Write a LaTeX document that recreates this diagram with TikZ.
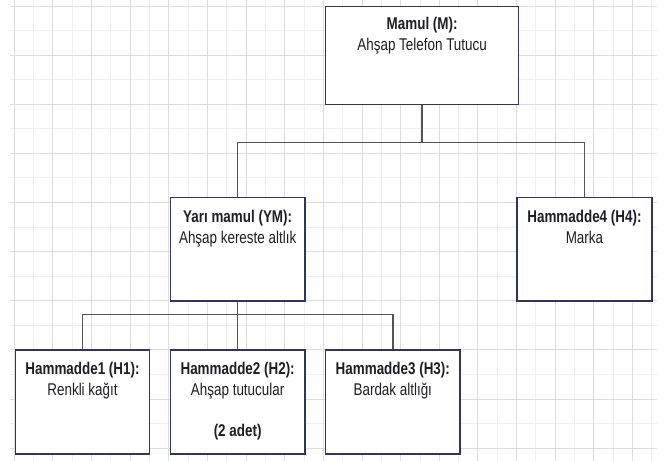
\documentclass[tikz,border=0pt]{standalone}
\usepackage{fontspec}
\setmainfont[FakeStretch=0.79]{Liberation Sans}
\usetikzlibrary{calc}
\definecolor{gridA}{HTML}{DDDDDD}
\definecolor{gridB}{HTML}{EFEFEF}
\definecolor{boxline}{HTML}{2E3660}
\definecolor{connc}{HTML}{555555}
\definecolor{txtc}{HTML}{1E1E26}
\begin{document}
\begin{tikzpicture}[x=1pt,y=-1pt,
 box/.style={draw=boxline, line width=1.3pt, fill=white, rectangle, inner sep=0pt, anchor=north west},
 lbl/.style={anchor=north, inner sep=0pt, align=center, text=txtc, font=\fontsize{17}{20.5}\selectfont, execute at begin node=\strut},
 connector/.style={draw=connc, line width=1.6pt},
 gminor/.style={draw=gridB, line width=1pt},
 gmajor/.style={draw=gridA, line width=1pt},
]
\useasboundingbox (0,0) rectangle (665,461);
\fill[white] (0,0) rectangle (665,461);
% grid
\foreach \k in {1,3,...,33}{\pgfmathsetmacro\xx{14.3+19.32*\k}\draw[gminor] (\xx,0) -- (\xx,461);}
\foreach \k in {1,3,...,17}{\pgfmathsetmacro\yy{6+24.57*\k}\draw[gminor] (10,\yy) -- (657,\yy);}
\foreach \k in {0,2,...,32}{\pgfmathsetmacro\xx{14.3+19.32*\k}\draw[gmajor] (\xx,0) -- (\xx,461);}
\foreach \k in {0,2,...,18}{\pgfmathsetmacro\yy{6+24.57*\k}\draw[gmajor] (10,\yy) -- (657,\yy);}
% boxes
\node[box, minimum width=193pt, minimum height=98pt] (m) at (325,6) {};
\node[box, minimum width=134.6pt, minimum height=103.3pt] (ym) at (169.7,197) {};
\node[box, minimum width=135pt, minimum height=103.3pt] (h4) at (516.3,197) {};
\node[box, minimum width=134.3pt, minimum height=104pt] (h1) at (14.7,349.3) {};
\node[box, minimum width=134.6pt, minimum height=104pt] (h2) at (169.7,349.3) {};
\node[box, minimum width=134.3pt, minimum height=104pt] (h3) at (325,349.3) {};
% connectors
\coordinate (j1) at ($(m.south)+(0,37)$);
\coordinate (j2) at ($(ym.south)+(0,13)$);
\draw[connector] (m.south) -- (j1);
\draw[connector] (ym.north) |- (j1) -| (h4.north);
\draw[connector] (ym.south) -- (j2) -- (h2.north);
\draw[connector] (h1.north) |- (j2) -| (h3.north);
% texts
\node[lbl] (mT) at ($(m.north)+(0,11)$) {\textbf{Mamul (M):}\\Ahşap Telefon Tutucu};
\node[lbl] (ymT) at ($(ym.north)+(0,13)$) {\textbf{Yarı mamul (YM):}\\Ahşap kereste altlık};
\node[lbl] (h4T) at ($(h4.north)+(0,13)$) {\textbf{Hammadde4 (H4):}\\Marka};
\node[lbl] (h1T) at ($(h1.north)+(0,13)$) {\textbf{Hammadde1 (H1):}\\Renkli kağıt};
\node[lbl] (h2T) at ($(h2.north)+(0,13)$) {\textbf{Hammadde2 (H2):}\\Ahşap tutucular\\[20.5pt]\textbf{(2 adet)}};
\node[lbl] (h3T) at ($(h3.north)+(0,13)$) {\textbf{Hammadde3 (H3):}\\Bardak altlığı};
\end{tikzpicture}
\end{document}
